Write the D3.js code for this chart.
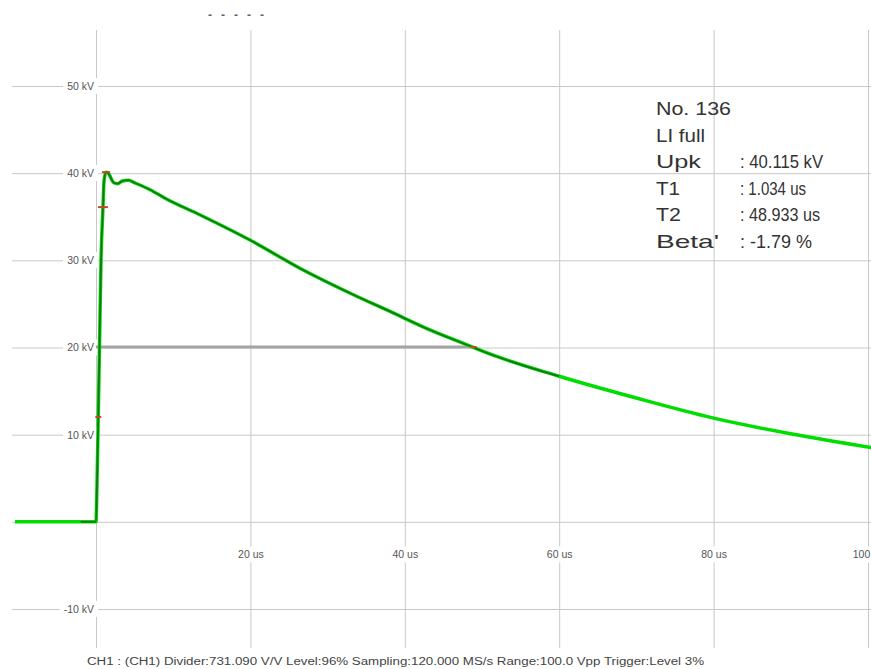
<!DOCTYPE html>
<html>
<head>
<meta charset="utf-8">
<script src="https://cdn.jsdelivr.net/npm/d3@7"></script>
<style>
  body { margin: 0; background: #fff; }
  svg { display: block; }
  .grid line { stroke: #c8c8c8; stroke-width: 1; }
  .grid path { display: none; }
  .lbl text { font-family: "Liberation Sans", Arial, sans-serif; font-size: 10.5px; fill: #555; }
  .lbl path, .lbl line { display: none; }
  .info { font-family: "Liberation Sans", Arial, sans-serif; font-size: 19px; fill: #333; }
</style>
</head>
<body>
<svg id="chart"></svg>
<script>
(function(){

// waveform (time in us, voltage in kV)
var timeUs = [-10.5, -2, -0.1, 0, 0.1, 0.25, 0.45, 0.65, 0.9, 1.05, 1.3, 1.6, 1.9, 2.3, 2.8, 3.4, 4.2, 5.0,
              7.0, 9.0, 13.5, 20, 26.4, 33, 39.4, 42, 48.9, 50, 60, 70, 80, 90, 100.5];
var voltKV = [0, 0, 0, 0, 3, 10, 20, 30, 36, 39.2, 40.1, 40.0, 39.5, 38.9, 38.8, 39.1, 39.2, 38.9,
              38.1, 37.1, 35.2, 32.3, 29.1, 26.2, 23.6, 22.5, 20.0, 19.6, 16.7, 14.2, 11.9, 10.1, 8.5];

var yGridKV = [-10, 0, 10, 20, 30, 40, 50];
var yLabelKV = [-10, 10, 20, 30, 40, 50];
var xGridUs = [0, 20, 40, 60, 80, 100];
var xLabelUs = [20, 40, 60, 80, 100];

var infoNames = ["No. 136", "LI full", "Upk", "T1", "T2", "Beta'"];
var infoValues = ["", "", ": 40.115 kV", ": 1.034 us", ": 48.933 us", ": -1.79 %"];

var upk = 40.115, t2 = 48.933;
var footer = "CH1 : (CH1)  Divider:731.090 V/V   Level:96%   Sampling:120.000 MS/s   Range:100.0 Vpp   Trigger:Level 3%";

var W = 871, H = 669;
var svg = d3.select("#chart").attr("width", W).attr("height", H);

var x = d3.scaleLinear().domain([0, 100]).range([96, 868]);
var y = d3.scaleLinear().domain([-10, 50]).range([609, 86]);

// grid
svg.append("g")
  .attr("class", "grid")
  .attr("transform", "translate(12,0)")
  .call(d3.axisRight(y).tickValues(yGridKV).tickSize(W - 12).tickFormat(""));

svg.append("g")
  .attr("class", "grid")
  .attr("transform", "translate(0,30)")
  .call(d3.axisBottom(x).tickValues(xGridUs).tickSize(648 - 30).tickFormat(""));

// tick labels sit on white boxes over the grid
var yl = svg.append("g")
  .attr("class", "lbl")
  .attr("transform", "translate(95,0)")
  .call(d3.axisLeft(y).tickValues(yLabelKV).tickSize(0).tickPadding(1)
    .tickFormat(function(d){ return d + " kV"; }));

var xl = svg.append("g")
  .attr("class", "lbl")
  .attr("transform", "translate(0,551)")
  .call(d3.axisBottom(x).tickValues(xLabelUs).tickSize(0).tickPadding(0)
    .tickFormat(function(d){ return d + " us"; }));

[yl, xl].forEach(function(g){
  g.selectAll(".tick").each(function(){
    var t = d3.select(this).select("text");
    var b = t.node().getBBox();
    d3.select(this).insert("rect", "text")
      .attr("x", b.x - 4).attr("y", b.y - 2)
      .attr("width", b.width + 8).attr("height", b.height + 4)
      .attr("fill", "#fff");
  });
});

// half value line
svg.append("line")
  .attr("x1", x(0)).attr("x2", x(t2))
  .attr("y1", y(upk / 2)).attr("y2", y(upk / 2))
  .attr("stroke", "#a4a4a4").attr("stroke-width", 3);

var pts = timeUs.map(function(t, i){ return {t: t, v: voltKV[i]}; });

var line = d3.line()
  .curve(d3.curveMonotoneX)
  .x(function(d){ return x(d.t); })
  .y(function(d){ return y(d.v); });

svg.append("path")
  .datum(pts)
  .attr("d", line)
  .attr("fill", "none")
  .attr("stroke", "#00dd00")
  .attr("stroke-width", 3.5);

svg.append("path")
  .datum(pts.filter(function(d){ return d.t >= -3 && d.t <= 60; }))
  .attr("d", line)
  .attr("fill", "none")
  .attr("stroke", "#1d5a22")
  .attr("stroke-opacity", 0.8)
  .attr("stroke-width", 1.8);

// red markers: 30%, 90%, peak, T2
var marks = [
  {t: 0.3, v: upk * 0.3, w: 3},
  {t: 0.9, v: upk * 0.9, w: 5},
  {t: 1.3, v: upk, w: 4},
  {t: t2, v: upk / 2, w: 3}
];
svg.selectAll("line.mark")
  .data(marks)
  .enter().append("line")
  .attr("class", "mark")
  .attr("x1", function(d){ return x(d.t) - d.w; })
  .attr("x2", function(d){ return x(d.t) + d.w; })
  .attr("y1", function(d){ return y(d.v); })
  .attr("y2", function(d){ return y(d.v); })
  .attr("stroke", "#c8442a")
  .attr("stroke-width", 2);

// info block (widths matched to the picture)
var nameW = [75, 49, 45, 24, 25, 63];
var valW = [0, 0, 83, 66, 80, 72];
var info = svg.append("g").attr("class", "info");
infoNames.forEach(function(n, i){
  var by = 115 + i * 26.6;
  info.append("text").attr("x", 656).attr("y", by)
    .attr("textLength", nameW[i]).attr("lengthAdjust", "spacingAndGlyphs").text(n);
  if (infoValues[i]) info.append("text").attr("x", 740).attr("y", by)
    .attr("textLength", valW[i]).attr("lengthAdjust", "spacingAndGlyphs").text(infoValues[i]);
});

// clipped title remnant at top
svg.append("text")
  .attr("x", 208).attr("y", 19)
  .attr("textLength", 56)
  .attr("lengthAdjust", "spacing")
  .style("font-family", "Liberation Sans, Arial, sans-serif")
  .style("font-size", "12px")
  .style("font-weight", "bold")
  .style("fill", "#666")
  .text("- - - - -");

// footer
svg.append("rect")
  .attr("x", 0).attr("y", 650).attr("width", W).attr("height", H - 650)
  .attr("fill", "#fff");
svg.append("text")
  .attr("x", 87).attr("y", 665)
  .attr("textLength", 617)
  .attr("lengthAdjust", "spacingAndGlyphs")
  .style("font-family", "Liberation Sans Narrow, Liberation Sans, Arial, sans-serif")
  .style("font-size", "10px")
  .style("fill", "#444")
  .text(footer);

})();
</script>
</body>
</html>
